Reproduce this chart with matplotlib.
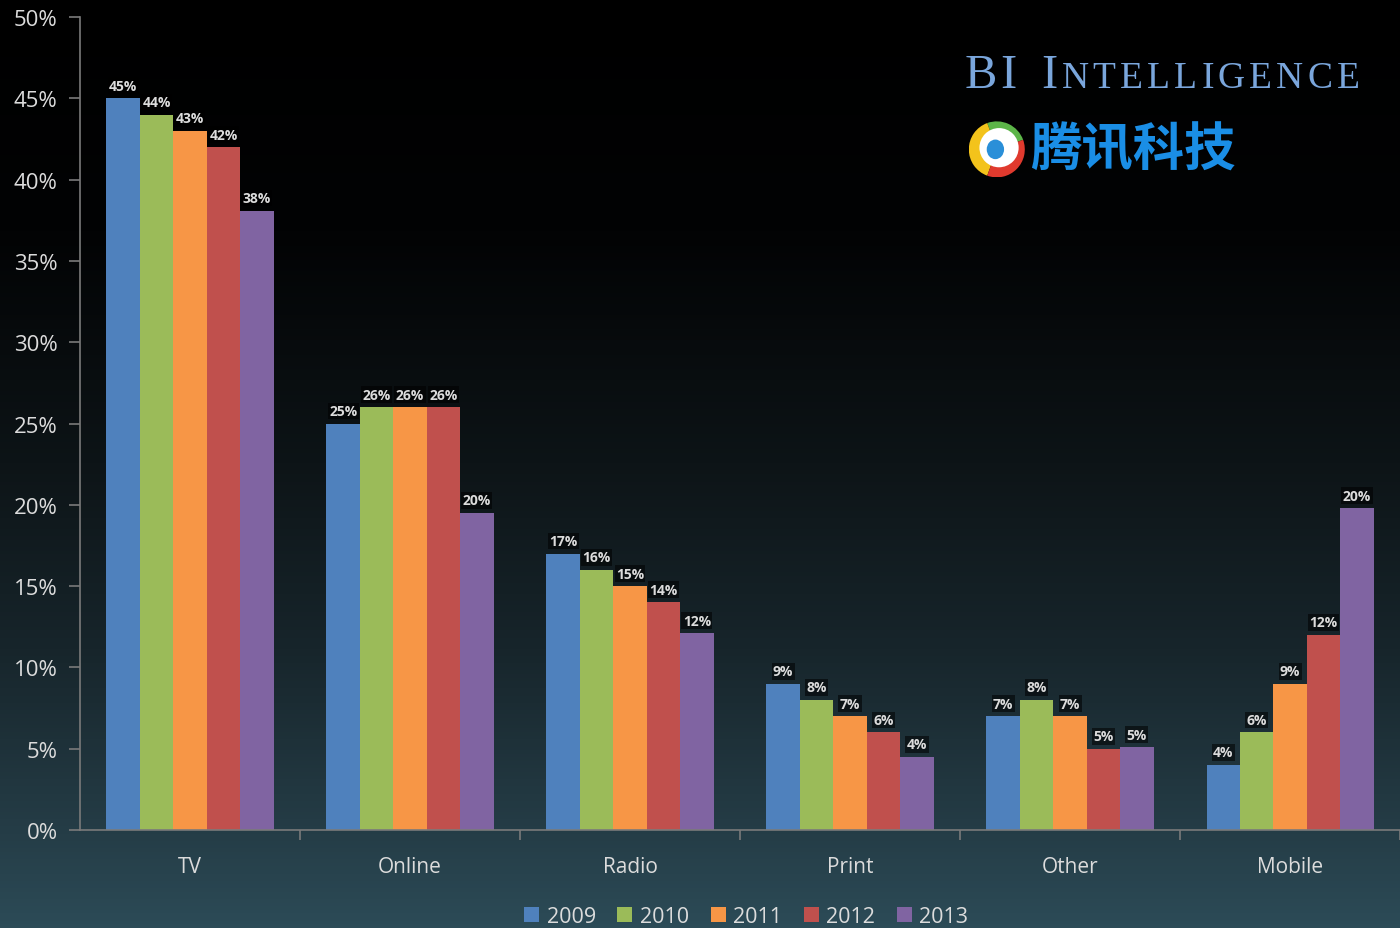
import matplotlib
matplotlib.use('Agg')
import matplotlib.pyplot as plt
import numpy as np
from matplotlib.colors import LinearSegmentedColormap
from matplotlib.patches import Wedge, Circle, Ellipse

categories = ['TV', 'Online', 'Radio', 'Print', 'Other', 'Mobile']
years = ['2009', '2010', '2011', '2012', '2013']
share = {
    '2009': [45, 25, 17, 9, 7, 4],
    '2010': [44, 26, 16, 8, 8, 6],
    '2011': [43, 26, 15, 7, 7, 9],
    '2012': [42, 26, 14, 6, 5, 12],
    '2013': [38.1, 19.5, 12.1, 4.5, 5.1, 19.8],
}
labels = {
    '2009': ['45%', '25%', '17%', '9%', '7%', '4%'],
    '2010': ['44%', '26%', '16%', '8%', '8%', '6%'],
    '2011': ['43%', '26%', '15%', '7%', '7%', '9%'],
    '2012': ['42%', '26%', '14%', '6%', '5%', '12%'],
    '2013': ['38%', '20%', '12%', '4%', '5%', '20%'],
}
colors = ['#4f81bd', '#9bbb59', '#f79646', '#c0504d', '#8064a2']
yticks = [0, 5, 10, 15, 20, 25, 30, 35, 40, 45, 50]

plt.rcParams['font.family'] = ['Open Sans', 'DejaVu Sans']
txt = '#dcdcdc'

fig = plt.figure(figsize=(14, 9.29), dpi=100)

# gradient background
bg = fig.add_axes([0, 0, 1, 1], zorder=-10)
cmap = LinearSegmentedColormap.from_list('bg', [
    (0.0, '#000000'), (0.25, '#020304'), (0.5, '#0d1417'),
    (0.7, '#17252b'), (0.9, '#253d47'), (1.0, '#2c4b57')])
grad = np.linspace(0, 1, 256).reshape(-1, 1)
bg.imshow(grad, aspect='auto', cmap=cmap, extent=[0, 1, 0, 1], origin='upper')
bg.axis('off')

ax = fig.add_axes([0.0571, 0.1055, 0.943, 0.875])
ax.set_facecolor('none')

x = np.arange(len(categories))
w = 0.152
for i, yr in enumerate(years):
    pos = x + (i - 2) * w
    ax.bar(pos, share[yr], width=w, color=colors[i], label=yr, zorder=2)
    for px, v, lab in zip(pos, share[yr], labels[yr]):
        ax.annotate(lab, (px, v), xytext=(0, 4), textcoords='offset points',
                    ha='center', va='bottom', fontsize=10, fontweight='bold',
                    color=txt, zorder=4,
                    bbox=dict(boxstyle='square,pad=0.1', fc='black', ec='none', alpha=0.55))

ax.set_xlim(-0.5, len(categories) - 0.5)
ax.set_ylim(0, 50)
ax.set_yticks(yticks)
ax.set_yticklabels([f'{t}%' for t in yticks], fontsize=16, color=txt)
ax.set_xticks(x)
ax.set_xticklabels(categories, fontsize=15, color=txt)
ax.set_xticks(np.arange(0.5, len(categories), 1), minor=True)
ax.tick_params(axis='x', which='major', length=0, pad=19)
ax.tick_params(axis='x', which='minor', length=7, color='#7a7a7a', width=1.2)
ax.tick_params(axis='y', length=8, color='#7a7a7a', width=1.2, pad=8)
for s in ['top', 'right']:
    ax.spines[s].set_visible(False)
for s in ['left', 'bottom']:
    ax.spines[s].set_color('#7a7a7a')
    ax.spines[s].set_linewidth(1.2)

leg = fig.legend(loc='center', bbox_to_anchor=(0.533, 0.012), ncol=5, frameon=False,
                 fontsize=15.5, handlelength=0.7, handleheight=0.7, handletextpad=0.35,
                 columnspacing=1.0, labelcolor=txt)

# BI Intelligence title, small caps with letter spacing
blue = '#7aa6dc'
title = [('B', 35, 0), ('I', 35, 2), ('I', 35, 18)] + \
    [(c, 27, 3.0) for c in 'NTELLIGENCE']
n_before = len(fig.texts)
fig.text(0.689, 0.905, title[0][0], fontsize=title[0][1],
         family='Liberation Serif', color=blue)
gaps = [g for _, _, g in title]
for ch, fs, gap in title[1:]:
    fig.text(0, 0, ch, fontsize=fs, family='Liberation Serif', color=blue)
fig.canvas.draw()
letters = fig.texts[n_before:]
for k in range(1, len(letters)):
    bb = letters[k - 1].get_window_extent()
    letters[k].set_position(((bb.x1 + gaps[k] / 72 * fig.dpi) / fig.bbox.width, 0.905))
    fig.canvas.draw()

# Tencent logo
lax = fig.add_axes([0.692, 0.808, 0.04, 0.0603])
lax.set_xlim(-1, 1)
lax.set_ylim(-1, 1)
lax.set_aspect('equal')
lax.axis('off')
lax.add_patch(Wedge((0, 0), 1, 20, 110, fc='#5cb548'))
lax.add_patch(Wedge((0, 0), 1, 110, 250, fc='#f3c31b'))
lax.add_patch(Wedge((0, 0), 1, 250, 380, fc='#e03a2e'))
lax.add_patch(Circle((0.08, 0.06), 0.7, fc='white'))
lax.add_patch(Ellipse((-0.05, 0.0), 0.62, 0.7, fc='#2a8fd8'))
fig.text(0.736, 0.8385, '腾讯科技', fontsize=37, fontweight='bold', color='#1a8ee6',
         family=['Noto Sans CJK SC', 'DejaVu Sans'], va='center')

fig.savefig('out.png', dpi=100, facecolor='black')
